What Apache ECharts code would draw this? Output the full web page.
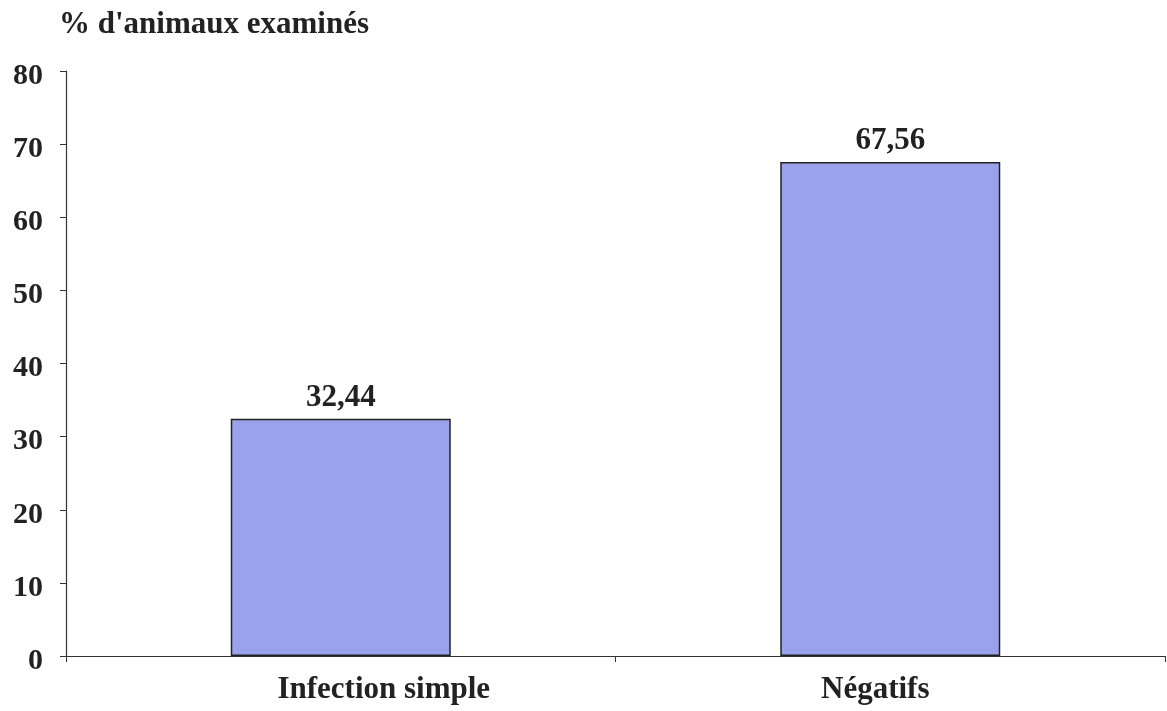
<!DOCTYPE html>
<html>
<head>
<meta charset="utf-8">
<script src="https://cdn.jsdelivr.net/npm/echarts@6/dist/echarts.min.js"></script>
<style>
  html, body { margin: 0; padding: 0; background: #fff; }
  #chart { width: 1167px; height: 711px; }
</style>
</head>
<body>
<div id="chart"></div>
<script>
// données
var categories = ["Infection simple", "Négatifs"];
var values = [32.44, 67.56];
var yTicks = [0, 10, 20, 30, 40, 50, 60, 70, 80];

var font = "'Liberation Serif', 'Times New Roman', serif";
var myChart = echarts.init(document.getElementById("chart"));
var option = {
  animation: false,
  title: {
    text: "% d'animaux examinés",
    left: 54,
    top: 4,
    textStyle: { fontFamily: font, fontWeight: "bold", fontSize: 31, color: "#222" },
  },
  grid: { left: 66, right: 2, top: 71, bottom: 55 },
  xAxis: {
    type: "category",
    data: categories,
    axisLine: { lineStyle: { color: "#333", width: 1.2 } },
    axisTick: { show: true, alignWithLabel: false, length: 6, lineStyle: { color: "#333" } },
    axisLabel: {
      margin: 18,
      // les étiquettes ne sont pas centrées sous les barres dans l'original
      formatter: function (v, i) { return i === 0 ? "{a|" + v + "}" : "{b|" + v + "}"; },
      rich: {
        a: { fontFamily: font, fontWeight: "bold", fontSize: 31, color: "#222", padding: [0, 0, 0, 86] },
        b: { fontFamily: font, fontWeight: "bold", fontSize: 31, color: "#222", padding: [0, 30, 0, 0] },
      },
    },
  },
  yAxis: {
    type: "value",
    min: yTicks[0],
    max: yTicks[yTicks.length - 1],
    interval: 10,
    splitLine: { show: false },
    axisLine: { show: true, lineStyle: { color: "#333", width: 1.2 } },
    axisTick: { show: true, length: 6, lineStyle: { color: "#333" } },
    axisLabel: {
      margin: 23,
      formatter: function (v) { return "{n|" + v + "}"; },
      rich: {
        n: { fontFamily: font, fontWeight: "bold", fontSize: 30, color: "#222", padding: [10, 0, 0, 0] },
      },
    },
  },
  series: [
    {
      type: "bar",
      data: values,
      barWidth: 220,
      itemStyle: { color: "#9aa2ec", borderColor: "#222", borderWidth: 1.5 },
      label: {
        show: true,
        position: "top",
        distance: 5,
        formatter: function (p) { return p.value.toFixed(2).replace(".", ","); },
        fontFamily: font, fontWeight: "bold", fontSize: 31, color: "#222",
      },
    },
  ],
};
myChart.setOption(option);
</script>
</body>
</html>
